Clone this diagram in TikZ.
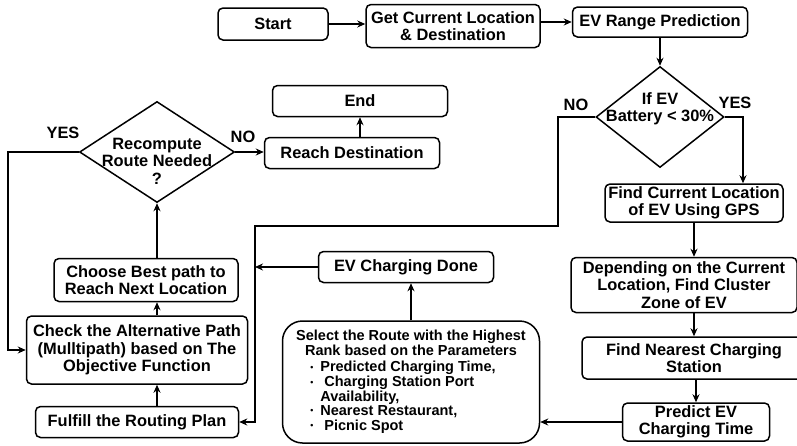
\documentclass[tikz,border=0pt]{standalone}
\usepackage{fontspec}
\setmainfont{Liberation Sans}
\usetikzlibrary{arrows.meta,shapes.geometric}

\begin{document}
\begin{tikzpicture}[x=1pt, y=-1pt,
  font=\bfseries\fontsize{16.4}{17.5}\selectfont,
  box/.style={draw, line width=1.5pt, rounded corners=5pt, fill=white, align=center, inner sep=2pt},
  decision/.style={draw, line width=1.5pt, diamond, inner sep=0pt},
  arr/.style={line width=1.5pt, -{Stealth[length=8pt, width=7pt]}},
  tag/.style={inner sep=1pt}]
\fill[white] (0,0) rectangle (797,445);
\useasboundingbox (0,0) rectangle (797,445);

% top row
\node (start) [box, minimum width=110pt, minimum height=32pt] at (273,24) {Start};
\node (getloc) [box, minimum width=174pt, minimum height=43pt] at (453,26) {Get Current Location\\\& Destination};
\node (range) [box, minimum width=175pt, minimum height=30pt] at (660,22) {EV Range Prediction};
\node (battery) [decision, minimum width=128pt, minimum height=101pt,
  label={[align=center, yshift=8pt]center:If EV\\Battery < 30\%}] at (660,117) {};

% right column
\node (gps) [box, minimum width=178pt, minimum height=38pt] at (694,203) {Find Current Location\\of EV Using GPS};
\node (zone) [box, minimum width=226pt, minimum height=55pt] at (684,285) {Depending on the Current\\Location, Find Cluster\\Zone of EV};
\node (nearest) [box, minimum width=224pt, minimum height=42pt] at (694,358) {Find Nearest Charging\\Station};
\node (predict) [box, minimum width=147pt, minimum height=38pt] at (696,422) {Predict EV\\Charging Time};

% middle
\node (select) [box, rounded corners=20pt, minimum width=257pt, minimum height=122pt,
  font=\bfseries\fontsize{14.5}{15}\selectfont] at (411,382)
  {Select the Route with the Highest\\Rank based on the Parameters\\[5pt]
   \hspace*{-16pt}\renewcommand{\arraystretch}{0.92}%
   \begin{tabular}{@{}l@{\hspace{7pt}}l@{}}
   \raisebox{1.5pt}{\scalebox{0.6}{\textbullet}} & Predicted Charging Time,\\
   \raisebox{1.5pt}{\scalebox{0.6}{\textbullet}} & \ Charging Station Port\\
    & Availability,\\
   \raisebox{1.5pt}{\scalebox{0.6}{\textbullet}} & Nearest Restaurant,\\
   \raisebox{1.5pt}{\scalebox{0.6}{\textbullet}} & \ Picnic Spot
   \end{tabular}};
\node (done) [box, minimum width=175pt, minimum height=31pt] at (406,267) {EV Charging Done};

% left column
\node (fulfill) [box, minimum width=203pt, minimum height=31pt] at (137,422) {Fulfill the Routing Plan};
\node (check) [box, minimum width=221pt, minimum height=68pt] at (137,350) {Check the Alternative Path\\(Mulltipath) based on The\\Objective Function};
\node (choose) [box, minimum width=184pt, minimum height=43pt] at (146,280) {Choose Best path to\\Reach Next Location};
\node (recompute) [decision, minimum width=155pt, minimum height=101pt,
  label={[align=center, yshift=-9pt]center:Recompute\\Route Needed\\?}] at (157,152) {};
\node (reach) [box, minimum width=175pt, minimum height=31pt] at (352,153) {Reach Destination};
\node (finish) [box, minimum width=175pt, minimum height=31pt] at (360,101) {End};

% yes / no
\node (yesbat) [tag] at (735,103) {YES};
\node (nobat) [tag] at (576,105) {NO};
\node (yesrec) [tag] at (63,133) {YES};
\node (norec) [tag] at (243,137) {NO};

\coordinate (yesdrop) at (743,117);
\coordinate (nocorner) at (558,226);
\coordinate (bus) at (255,226);
\coordinate (yesleft) at (8,152);
\coordinate (spine) at (157,0);

\draw[arr] (start.east) -- (start.east -| getloc.west);
\draw[arr] (getloc.east |- range.west) -- (range.west);
\draw[arr] (range.south) -- (battery.north);
\draw[arr] (battery.east) -- (yesdrop) -- (yesdrop |- gps.north);
\draw[arr] (battery.west) -| (nocorner) -- (bus) |- (fulfill.east);
\draw[arr] (done.west) -- (done.west -| bus);
\draw[arr] (gps.south) -- (gps.south |- zone.north);
\draw[arr] (nearest.north |- zone.south) -- (nearest.north);
\draw[arr] (predict.north |- nearest.south) -- (predict.north);
\draw[arr] (predict.west) -- (predict.west -| select.east);
\draw[arr] (select.north) -- (select.north |- done.south);
\draw[arr] (fulfill.north -| spine) -- (check.south -| spine);
\draw[arr] (check.north -| spine) -- (choose.south -| spine);
\draw[arr] (choose.north -| spine) -- (recompute.south);
\draw[arr] (recompute.east) -- (recompute.east -| reach.west);
\draw[arr] (finish.south |- reach.north) -- (finish.south);
\draw[arr] (recompute.west) -- (yesleft) |- (check.west);
\end{tikzpicture}
\end{document}
